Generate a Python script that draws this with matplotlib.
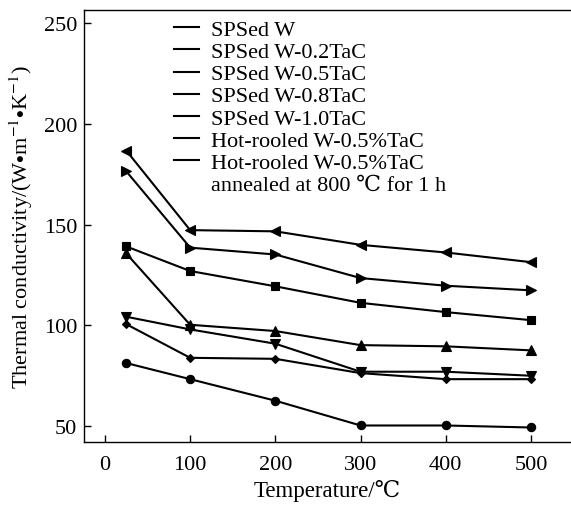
import matplotlib
matplotlib.use("Agg")
import matplotlib.pyplot as plt
from matplotlib.lines import Line2D

plt.rcParams['font.family'] = ['Liberation Serif', 'DejaVu Serif', 'Noto Sans CJK SC']
plt.rcParams['mathtext.fontset'] = 'stix'

# temperatures (C) and thermal conductivity values
temperature = [25, 100, 200, 300, 400, 500]
spsed_w = [81.3, 73.3, 62.6, 50.3, 50.3, 49.3]
spsed_w02 = [100.6, 83.9, 83.4, 76.3, 73.3, 73.3]
spsed_w05 = [104.3, 98.0, 90.9, 77.0, 77.0, 75.0]
spsed_w08 = [135.7, 100.3, 97.2, 90.2, 89.6, 87.6]
spsed_w10 = [139.2, 127.0, 119.4, 111.2, 106.6, 102.6]
hot_rolled = [176.5, 138.6, 135.2, 123.5, 119.7, 117.4]
hot_rolled_annealed = [186.8, 147.3, 146.7, 140.0, 136.2, 131.4]

series = [spsed_w, spsed_w02, spsed_w05, spsed_w08, spsed_w10, hot_rolled, hot_rolled_annealed]
markers = ['o', 'D', 'v', '^', 's', '>', '<']
msizes = [6, 4.5, 6.5, 6.5, 5.5, 6.5, 6.5]
labels = ['SPSed W', 'SPSed W-0.2TaC', 'SPSed W-0.5TaC', 'SPSed W-0.8TaC',
          'SPSed W-1.0TaC', 'Hot-rooled W-0.5%TaC', 'Hot-rooled W-0.5%TaC']

fig = plt.figure(figsize=(5.71, 5.06), dpi=100)
ax = fig.add_axes([84 / 571, 1 - 443 / 506, 1 - 84 / 571, (443 - 11) / 506])

for vals, m, ms in zip(series, markers, msizes):
    ax.plot(temperature, vals, color='black', lw=1.5, marker=m, ms=ms,
            markeredgewidth=0.8)

ax.set_xlim(-24.6, 547)
ax.set_ylim(42.1, 256.6)
ax.set_xticks([0, 100, 200, 300, 400, 500])
ax.set_yticks([50, 100, 150, 200, 250])
ax.tick_params(direction='in', length=5, width=1, labelsize=16, color='black')
ax.tick_params(axis='x', pad=9)
ax.tick_params(axis='y', pad=5)
ax.spines['right'].set_visible(False)
for s in ['left', 'top', 'bottom']:
    ax.spines[s].set_linewidth(1.0)

ax.set_xlabel('Temperature/\u2103', fontsize=16.5, labelpad=4)
ax.set_ylabel(r'Thermal conductivity/(W$\bullet$m$^{-1}$$\bullet$K$^{-1}$)', fontsize=16, labelpad=6)

handles = [Line2D([], [], color='black', lw=1.5) for _ in labels]
handles.append(Line2D([], [], color='none'))
leg_labels = labels + ['annealed at 800 \u2103 for 1 h']
ax.legend(handles, leg_labels, loc='upper left', bbox_to_anchor=(0.185, 0.978),
          frameon=False, fontsize=16, handlelength=1.1, handletextpad=0.55,
          labelspacing=0.07, borderpad=0, borderaxespad=0)

fig.savefig('out.png', dpi=100)
